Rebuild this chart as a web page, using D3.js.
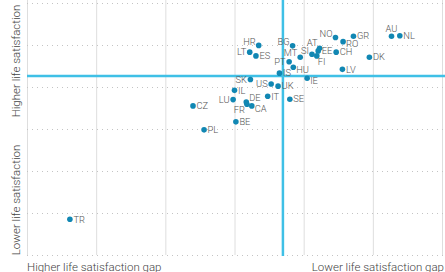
<!DOCTYPE html>
<html>
<head>
<meta charset="utf-8">
<script src="https://cdn.jsdelivr.net/npm/d3@7"></script>
<style>
  body { margin: 0; background: #fff; }
  svg { display: block; font-family: Roboto, "Noto Sans", sans-serif; }
</style>
</head>
<body>
<svg id="chart"></svg>
<script>
//======
// Data
//======
var countries = ["NO","GR","RO","CH","DK","LV","IE","HU","PT","IS","UK","US","SK","IL","LU","DE","FR","CA","IT","SE","CZ","BE","PL","HR","LT","ES","BG","MT","SI","AT","EE","FI","AU","NL","TR"];
// life satisfaction gap (left = higher gap)
var gapValues = [4.46,4.72,4.57,4.47,4.95,4.56,4.05,3.85,3.79,3.65,3.63,3.53,3.23,3.00,2.98,3.17,3.18,3.25,3.48,3.80,2.40,3.02,2.56,3.35,3.22,3.31,3.84,3.95,4.12,4.23,4.21,4.19,5.27,5.39,0.62];
// life satisfaction (top = higher)
var satValues = [5.18,5.21,5.08,4.83,4.71,4.42,4.21,4.47,4.60,4.33,4.02,4.07,4.18,3.92,3.70,3.64,3.59,3.55,3.78,3.71,3.55,3.17,2.98,4.99,4.83,4.74,4.98,4.71,4.78,4.92,4.86,4.74,5.21,5.22,0.85];
var gapMean = 3.70;
var satMean = 4.26;
var xTicks = [0, 1, 2, 3, 4, 5, 6];
var yTicks = [0, 1, 2, 3, 4, 5, 6];

// where each label sits relative to its dot
var labelSide = {
  NO: "tl", RO: "br", HU: "br", IE: "br", PT: "l", US: "l", SK: "l", LU: "l",
  HR: "tl", LT: "l", BG: "tl", MT: "tl", SI: "tl", AT: "tl2", FR: "bl",
  CA: "br", DE: "tr", FI: "b", EE: "r", AU: "t"
};

//=======
// Chart
//=======
var width = 445, height = 272;
var plotLeft = 27, plotRight = 442, plotTop = 3, plotBottom = 255;

var svg = d3.select("#chart").attr("width", width).attr("height", height);

var x = d3.scaleLinear().domain([0, 6]).range([plotLeft, plotRight]);
var y = d3.scaleLinear().domain([0, 6]).range([plotBottom, plotTop]);

// vertical solid grid
svg.append("g")
  .attr("transform", "translate(0," + plotBottom + ")")
  .call(d3.axisBottom(x).tickValues(xTicks).tickSize(-plotBottom).tickFormat(""))
  .call(g => g.select(".domain").remove())
  .call(g => g.selectAll("line").attr("stroke", "#dedede").attr("stroke-width", 1));

// horizontal dotted grid
svg.append("g")
  .attr("transform", "translate(" + plotLeft + ",0)")
  .call(d3.axisLeft(y).tickValues(yTicks).tickSize(-(width - plotLeft)).tickFormat(""))
  .call(g => g.select(".domain").remove())
  .call(g => g.selectAll("line").attr("stroke", "#c4c4c4").attr("stroke-width", 1).attr("stroke-dasharray", "1,4"));

// mean lines
svg.append("line")
  .attr("x1", plotLeft).attr("x2", width)
  .attr("y1", y(satMean)).attr("y2", y(satMean))
  .attr("stroke", "#3fc0e6").attr("stroke-width", 2.5);
svg.append("line")
  .attr("x1", x(gapMean)).attr("x2", x(gapMean))
  .attr("y1", 0).attr("y2", plotBottom + 1)
  .attr("stroke", "#3fc0e6").attr("stroke-width", 2.5);

var data = countries.map((c, i) => ({name: c, gx: gapValues[i], sy: satValues[i]}));

var pts = svg.append("g").selectAll("g").data(data).enter().append("g")
  .attr("transform", d => "translate(" + x(d.gx) + "," + y(d.sy) + ")");

pts.append("circle").attr("r", 2.8).attr("fill", "#1187b3");

var offs = {
  r:   [3.5, 0, "start"],
  l:   [-3.5, 0, "end"],
  tl:  [-3, -4, "end"],
  tl2: [-2, -5.5, "end"],
  tr:  [3, -4, "start"],
  br:  [3, 2.5, "start"],
  bl:  [-2, 6, "end"],
  b:   [1, 6, "start"],
  t:   [0, -7, "middle"]
};

pts.append("text")
  .text(d => d.name)
  .attr("x", d => offs[labelSide[d.name] || "r"][0])
  .attr("y", d => offs[labelSide[d.name] || "r"][1])
  .attr("dy", "0.35em")
  .attr("text-anchor", d => offs[labelSide[d.name] || "r"][2])
  .attr("font-size", 9.3)
  .attr("font-weight", 300)
  .attr("fill", "#555");

// axis titles
var titleSize = 11.5;
svg.append("text")
  .attr("x", plotLeft).attr("y", 271)
  .attr("font-size", titleSize).attr("font-weight", 300).attr("fill", "#444")
  .text("Higher life satisfaction gap");
svg.append("text")
  .attr("x", 444).attr("y", 271).attr("text-anchor", "end")
  .attr("font-size", titleSize).attr("font-weight", 300).attr("fill", "#444")
  .text("Lower life satisfaction gap");
svg.append("text")
  .attr("transform", "translate(20,61) rotate(-90)")
  .attr("text-anchor", "middle")
  .attr("font-size", titleSize).attr("font-weight", 300).attr("fill", "#444")
  .text("Higher life satisfaction");
svg.append("text")
  .attr("transform", "translate(20,200) rotate(-90)")
  .attr("text-anchor", "middle")
  .attr("font-size", titleSize).attr("font-weight", 300).attr("fill", "#444")
  .text("Lower life satisfaction");
</script>
</body>
</html>
